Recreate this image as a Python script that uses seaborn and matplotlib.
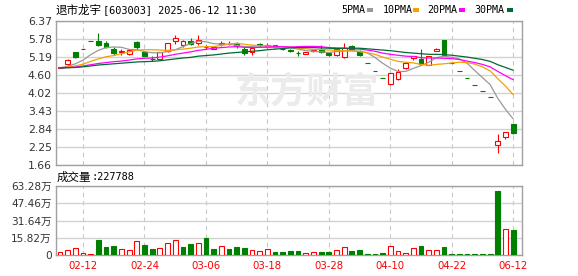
import numpy as np
import matplotlib
matplotlib.use("Agg")
import matplotlib.pyplot as plt
import seaborn as sns
from matplotlib.patches import Rectangle

# ---------------- data ----------------
stock_name = "退市龙宇"
title_rest = "[603003] 2025-06-12 11:30"
volume_title = "成交量"
volume_last = ":227788"

date_labels = ["02-12", "02-24", "03-06", "03-18", "03-28", "04-10", "04-22", "06-12"]
date_index = [3, 11, 19, 27, 35, 43, 51, 59]

open_ = [4.84, 4.97, 5.35, 5.45, 5.72, 5.71, 5.65, 5.44, 5.36, 5.30,
         5.68, 5.34, 5.14, 5.13, 5.38, 5.71, 5.57, 5.72, 5.66, 5.51,
         5.45, 5.62, 5.62, 5.64, 5.46, 5.37, 5.61, 5.53, 5.59, 5.47,
         5.41, 5.33, 5.30, 5.39, 5.44, 5.33, 5.25, 5.18, 5.56, 5.38,
         4.99, 4.74, 4.50, 4.30, 4.46, 4.82, 5.15, 5.14, 4.94, 5.40,
         5.75, 4.99, 4.74, 4.50, 4.28, 4.07, 3.87, 2.30, 2.59, 2.99]
high = [4.87, 5.12, 5.36, 5.45, 5.72, 5.98, 5.70, 5.51, 5.46, 5.46,
        5.70, 5.36, 5.21, 5.37, 5.66, 5.92, 5.76, 5.83, 5.90, 5.59,
        5.53, 5.70, 5.72, 5.68, 5.54, 5.54, 5.64, 5.64, 5.60, 5.50,
        5.44, 5.40, 5.37, 5.44, 5.57, 5.37, 5.50, 5.65, 5.58, 5.41,
        4.99, 4.74, 4.50, 4.68, 4.79, 5.00, 5.23, 5.45, 5.22, 5.48,
        5.75, 4.99, 4.74, 4.50, 4.28, 4.07, 3.87, 2.69, 2.75, 3.00]
low = [4.83, 4.92, 5.16, 5.45, 5.72, 5.54, 5.48, 5.27, 5.27, 5.27,
       5.42, 5.22, 5.05, 5.10, 5.37, 5.63, 5.52, 5.59, 5.59, 5.46,
       5.44, 5.56, 5.58, 5.50, 5.27, 5.27, 5.52, 5.50, 5.50, 5.42,
       5.35, 5.21, 5.28, 5.35, 5.33, 5.21, 5.21, 5.16, 5.42, 5.21,
       4.99, 4.74, 4.50, 4.28, 4.44, 4.81, 5.10, 4.95, 4.93, 5.39,
       5.25, 4.99, 4.74, 4.50, 4.28, 4.07, 3.87, 2.06, 2.51, 2.69]
close = [4.86, 5.11, 5.20, 5.45, 5.72, 5.59, 5.53, 5.31, 5.38, 5.41,
         5.51, 5.24, 5.12, 5.35, 5.65, 5.81, 5.71, 5.63, 5.75, 5.53,
         5.51, 5.64, 5.63, 5.56, 5.33, 5.48, 5.57, 5.59, 5.52, 5.45,
         5.39, 5.31, 5.35, 5.41, 5.35, 5.27, 5.46, 5.48, 5.46, 5.25,
         4.99, 4.74, 4.50, 4.66, 4.71, 4.99, 5.22, 4.97, 5.21, 5.47,
         5.25, 4.99, 4.74, 4.50, 4.28, 4.07, 3.87, 2.46, 2.74, 2.72]
volume_wan = [2.4, 4.3, 6.1, 1.8, 0.9, 13.8, 7.3, 8.3, 5.2, 4.6,
              12.5, 9.2, 5.5, 6.1, 10.7, 13.5, 7.3, 10.1, 11.0, 15.6,
              5.5, 7.9, 5.5, 7.3, 6.4, 4.3, 3.7, 5.2, 2.8, 2.8,
              3.7, 3.7, 1.8, 2.4, 2.8, 2.8, 4.3, 7.0, 3.7, 4.6,
              0.9, 0.9, 1.8, 7.9, 3.4, 1.8, 6.1, 8.3, 4.3, 4.3,
              7.3, 0.9, 0.9, 0.9, 0.9, 0.9, 0.9, 58.7, 23.5, 22.78]
ma5 = [4.84, 4.89, 4.97, 5.09, 5.27, 5.41, 5.50, 5.52, 5.51, 5.44,
       5.43, 5.37, 5.33, 5.33, 5.37, 5.43, 5.53, 5.63, 5.71, 5.69,
       5.63, 5.61, 5.61, 5.57, 5.53, 5.53, 5.51, 5.51, 5.50, 5.52,
       5.50, 5.45, 5.40, 5.38, 5.36, 5.34, 5.37, 5.39, 5.40, 5.38,
       5.33, 5.18, 4.99, 4.83, 4.72, 4.72, 4.82, 4.91, 5.02, 5.17,
       5.22, 5.18, 5.13, 4.99, 4.75, 4.52, 4.29, 3.84, 3.48, 3.17]
ma10 = [4.83, 4.86, 4.90, 4.96, 5.05, 5.13, 5.20, 5.24, 5.30, 5.36,
        5.42, 5.43, 5.43, 5.42, 5.41, 5.43, 5.45, 5.48, 5.52, 5.53,
        5.53, 5.57, 5.62, 5.64, 5.61, 5.58, 5.56, 5.56, 5.54, 5.53,
        5.52, 5.48, 5.46, 5.44, 5.44, 5.42, 5.41, 5.40, 5.39, 5.37,
        5.33, 5.28, 5.19, 5.12, 5.05, 5.02, 5.00, 4.95, 4.92, 4.95,
        4.97, 5.00, 5.02, 5.01, 4.96, 4.87, 4.74, 4.48, 4.24, 3.96]
ma20 = [4.83, 4.85, 4.86, 4.90, 4.94, 4.98, 5.01, 5.04, 5.06, 5.09,
        5.13, 5.15, 5.16, 5.19, 5.23, 5.28, 5.32, 5.36, 5.41, 5.44,
        5.48, 5.50, 5.52, 5.53, 5.51, 5.50, 5.51, 5.52, 5.53, 5.53,
        5.52, 5.53, 5.54, 5.54, 5.53, 5.50, 5.49, 5.48, 5.46, 5.45,
        5.42, 5.38, 5.32, 5.28, 5.25, 5.22, 5.21, 5.17, 5.16, 5.16,
        5.15, 5.14, 5.11, 5.06, 5.01, 4.95, 4.87, 4.72, 4.58, 4.45]
ma30 = [4.83, 4.84, 4.85, 4.87, 4.90, 4.93, 4.95, 4.97, 4.99, 5.01,
        5.03, 5.04, 5.05, 5.07, 5.10, 5.13, 5.16, 5.18, 5.22, 5.24,
        5.26, 5.29, 5.32, 5.34, 5.36, 5.38, 5.40, 5.43, 5.45, 5.47,
        5.49, 5.50, 5.50, 5.50, 5.49, 5.48, 5.47, 5.48, 5.48, 5.48,
        5.46, 5.44, 5.42, 5.40, 5.37, 5.34, 5.32, 5.30, 5.28, 5.28,
        5.27, 5.25, 5.22, 5.19, 5.15, 5.11, 5.05, 4.94, 4.85, 4.76]

price_tick_labels = ["1.66", "2.25", "2.84", "3.43", "4.02", "4.60", "5.19", "5.78", "6.37"]
price_min, price_max = 1.66, 6.37
vol_tick_labels = ["0", "15.82万", "31.64万", "47.46万", "63.28万"]
vol_max = 63.28
legend_names = ["5PMA", "10PMA", "20PMA", "30PMA"]

# ---------------- style ----------------
RED = "#ff0000"
GREEN = "#008000"
MA_COLORS = ["#999999", "#f5a000", "#ff00ff", "#006a35"]
GRID = "#d2d2d2"
BORDER = "#a0a0a0"
LW = 0.8

sns.set_style("white")
plt.rcParams["font.family"] = ["DejaVu Sans", "Noto Sans CJK SC"]

W, H = 578, 276
fig = plt.figure(figsize=(W / 100, H / 100), dpi=100)
fig.patch.set_facecolor("white")


def fx(px):
    return px / W


def fy(py):
    return 1 - py / H


ax_p = fig.add_axes([fx(56), fy(165), (522 - 56) / W, (165 - 21) / H])
ax_v = fig.add_axes([fx(56), fy(255), (522 - 56) / W, (255 - 186) / H])

n = len(close)
x = np.arange(n)
o = np.array(open_)
c = np.array(close)
hi = np.array(high)
lo = np.array(low)

prev = np.concatenate([[c[0]], c[:-1]])
candle_up = np.where(c > o, True, np.where(c < o, False, c >= prev))
vol_up = c >= prev

edge = [RED if u else GREEN for u in candle_up]
face = ["white" if u else GREEN for u in candle_up]

# wicks
ax_p.vlines(x, lo, hi, colors=edge, linewidth=LW, zorder=2)
# bodies
ax_p.bar(x, np.abs(c - o), bottom=np.minimum(o, c), width=0.62,
         color=face, edgecolor=edge, linewidth=LW, zorder=3)

# moving averages
for ma, col in zip([ma5, ma10, ma20, ma30], MA_COLORS):
    sns.lineplot(x=x, y=ma, ax=ax_p, color=col, linewidth=0.9, zorder=4, legend=False)

# volume
vedge = [RED if u else GREEN for u in vol_up]
vface = ["white" if u else GREEN for u in vol_up]
ax_v.bar(x, volume_wan, width=0.62, color=vface, edgecolor=vedge, linewidth=LW, zorder=3)

# axes formatting
for ax in (ax_p, ax_v):
    ax.set_xlim(-0.52, 60.15)
    ax.set_xticks(date_index)
    ax.tick_params(length=0)
    ax.set_axisbelow(True)
    ax.grid(axis="y", color=GRID, linewidth=1.0, linestyle="-")
    ax.grid(axis="x", color="#c8c8c8", linewidth=0.8, linestyle=(0, (4, 3.5)))
    for s in ax.spines.values():
        s.set_color(BORDER)
        s.set_linewidth(1.0)
    ax.set_xlabel("")
    ax.set_ylabel("")

ax_p.set_ylim(price_min, price_max)
ax_p.set_yticks(np.linspace(price_min, price_max, len(price_tick_labels)))
ax_p.set_yticklabels(price_tick_labels, fontsize=7.8, color="#333333")
ax_p.set_xticklabels([])
ax_p.tick_params(axis="y", pad=3)

ax_v.set_ylim(0, vol_max)
ax_v.set_yticks(np.linspace(0, vol_max, len(vol_tick_labels)))
ax_v.set_yticklabels(vol_tick_labels, fontsize=7.6, color="#333333")
ax_v.set_xticklabels(date_labels, fontsize=7.3, color=RED)
ax_v.tick_params(axis="y", pad=3)
ax_v.tick_params(axis="x", pad=4.5)

# watermark
ax_p.text(fx(307), fy(92.5), "东方财富", transform=fig.transFigure, ha="center", va="center",
          fontsize=26, fontweight="bold", color="#ebebeb",
          family=["Noto Sans CJK SC"], zorder=1)

# title
fig.text(fx(56), fy(10), stock_name, ha="left", va="center", fontsize=8.3,
         family=["Noto Sans CJK SC"], color="black")
fig.text(fx(103), fy(10), title_rest, ha="left", va="center", fontsize=7.4,
         family=["DejaVu Sans Mono"], color="black")

# legend
leg_text_x = [341, 383, 427, 474]
leg_mark_x = [367, 413, 459, 507]
for name, tx, mx, col in zip(legend_names, leg_text_x, leg_mark_x, MA_COLORS):
    fig.text(fx(tx), fy(10), name, ha="left", va="center", fontsize=7.2,
             family=["DejaVu Sans Mono"], color="black")
    fig.patches.append(Rectangle((fx(mx), fy(11.5)), 6 / W, 4 / H, transform=fig.transFigure,
                                 facecolor=col, edgecolor="none"))

# volume title
fig.text(fx(57), fy(177.5), volume_title, ha="left", va="center", fontsize=8.3,
         family=["Noto Sans CJK SC"], color="black")
fig.text(fx(92), fy(177.5), volume_last, ha="left", va="center", fontsize=7.4,
         family=["DejaVu Sans Mono"], color="black")

fig.savefig("out.png", dpi=100, facecolor="white")
